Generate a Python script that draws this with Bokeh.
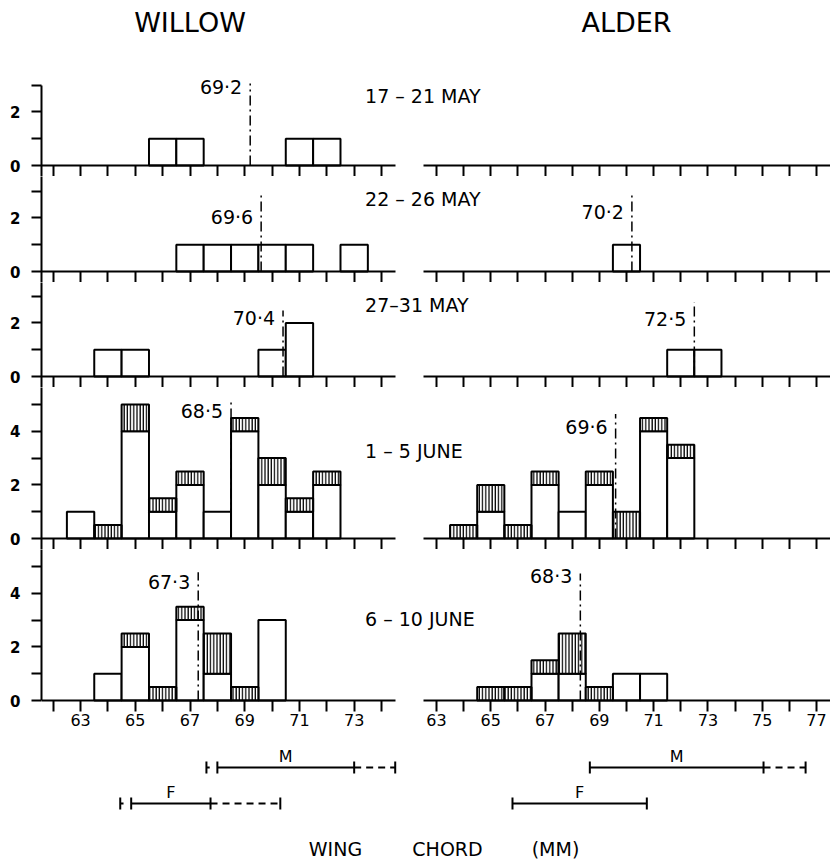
from bokeh.plotting import figure
from bokeh.models import Range1d, FixedTicker, Label, LinearAxis
from bokeh.layouts import column
from bokeh.embed import file_html
from bokeh.resources import INLINE

# ---------------- data ----------------
PERIODS = ["17 – 21 MAY", "22 – 26 MAY", "27–31 MAY", "1 – 5 JUNE", "6 – 10 JUNE"]

WILLOW_BINS = [63, 64, 65, 66, 67, 68, 69, 70, 71, 72, 73]
W_OPEN = [
    [0, 0, 0, 1, 1, 0, 0, 0, 1, 1, 0],
    [0, 0, 0, 0, 1, 1, 1, 1, 1, 0, 1],
    [0, 1, 1, 0, 0, 0, 0, 1, 2, 0, 0],
    [1, 0, 4, 1, 2, 1, 4, 2, 1, 2, 0],
    [0, 1, 2, 0, 3, 1, 0, 3, 0, 0, 0],
]
W_HATCH = [
    [0] * 11,
    [0] * 11,
    [0] * 11,
    [0, 0.5, 1, 0.5, 0.5, 0, 0.5, 1, 0.5, 0.5, 0],
    [0, 0, 0.5, 0.5, 0.5, 1.5, 0.5, 0, 0, 0, 0],
]
W_MEAN = [69.2, 69.6, 70.4, 68.5, 67.3]
W_MEAN_TEXT = ["69·2", "69·6", "70·4", "68·5", "67·3"]

ALDER_BINS = [64, 65, 66, 67, 68, 69, 70, 71, 72, 73]
A_OPEN = [
    [0] * 10,
    [0, 0, 0, 0, 0, 0, 1, 0, 0, 0],
    [0, 0, 0, 0, 0, 0, 0, 0, 1, 1],
    [0, 1, 0, 2, 1, 2, 0, 4, 3, 0],
    [0, 0, 0, 1, 1, 0, 1, 1, 0, 0],
]
A_HATCH = [
    [0] * 10,
    [0] * 10,
    [0] * 10,
    [0.5, 1, 0.5, 0.5, 0, 0.5, 1, 0.5, 0.5, 0],
    [0, 0.5, 0.5, 0.5, 1.5, 0.5, 0, 0, 0, 0],
]
A_MEAN = [None, 70.2, 72.5, 69.6, 68.3]
A_MEAN_TEXT = [None, "70·2", "72·5", "69·6", "68·3"]

W_TICKS_MAJOR = [63, 65, 67, 69, 71, 73]
W_TICKS_MINOR = [62, 64, 66, 68, 70, 72, 74]
W_TICKS_ALL = [62, 63, 64, 65, 66, 67, 68, 69, 70, 71, 72, 73, 74]
A_TICKS_MAJOR = [63, 65, 67, 69, 71, 73, 75, 77]
A_TICKS_MINOR = [64, 66, 68, 70, 72, 74, 76]
A_TICKS_ALL = [63, 64, 65, 66, 67, 68, 69, 70, 71, 72, 73, 74, 75, 76, 77]
Y_TICKS_MAJOR = [[0, 2], [0, 2], [0, 2], [0, 2, 4], [0, 2, 4]]
Y_TICKS_MINOR = [[1, 3], [1, 3], [1, 3], [1, 3, 5], [1, 3, 5]]

# size ranges (M = males, F = females), in mm
W_M_TICKS = [67.6, 68.0, 73.0, 74.5]
W_M_SOLID = [68.0, 73.0]
W_M_DASH = [73.0, 74.5]
W_F_TICKS = [64.45, 64.85, 67.75, 70.3]
W_F_SOLID = [64.85, 67.75]
W_F_DASH = [67.75, 70.3]
A_M_TICKS = [68.65, 75.05, 76.6]
A_M_SOLID = [68.65, 75.05]
A_M_DASH = [75.05, 76.6]
A_F_TICKS = [65.8, 70.75]
A_F_SOLID = [65.8, 70.75]

# ---------------- layout / style ----------------
FONT = "DejaVu Sans"
U = 26.8                      # px per count
WIDTH = 830
LEFT = 41
FRAME_W = WIDTH - LEFT
W_PX_MM = 27.36
A_PX_MM = 27.14
W_X = (61.572, 61.572 + FRAME_W / W_PX_MM)   # willow scale over the whole frame
A_X = (48.446, 48.446 + FRAME_W / A_PX_MM)   # alder scale over the whole frame
W_AXIS_END = 74.51
A_AXIS_START = 62.52
ROW_TOP = [0, 176, 282, 387, 549]
ROW_BASE = [165, 271, 376, 538, 700]
ROW_BOTTOM = [176, 282, 387, 549, 735]
W_LABEL_Y = [2.92, 2.03, 2.19, 4.75, 4.41]
W_LINE_TOP = [3.06, 2.96, 2.46, 5.15, 4.79]
A_LABEL_Y = [None, 2.21, 2.13, 4.15, 4.66]
A_LINE_TOP = [None, 2.84, 2.77, 4.65, 4.74]
DATE_Y = [2.61, 2.71, 2.65, 3.25, 3.03]
DATE_X = 73.4


def bars(p, bins, open_, hatch, rn):
    xo = [b for b, o in zip(bins, open_) if o > 0]
    to = [o for o in open_ if o > 0]
    if xo:
        p.vbar(x=xo, width=1, bottom=0, top=to, fill_color="white",
               line_color="black", line_width=2, x_range_name=rn)
    xh = [b for b, h in zip(bins, hatch) if h > 0]
    bh = [o for o, h in zip(open_, hatch) if h > 0]
    th = [o + h for o, h in zip(open_, hatch) if h > 0]
    if xh:
        p.vbar(x=xh, width=1, bottom=bh, top=th, fill_color="white",
               hatch_pattern="vertical_line", hatch_scale=3.2, hatch_weight=1.3,
               hatch_color="black", line_color="black", line_width=2,
               x_range_name=rn)


def x_axis(rn, bounds, major, minor, alls, labels):
    if labels:
        ticker = FixedTicker(ticks=major, minor_ticks=minor)
    else:
        ticker = FixedTicker(ticks=[], minor_ticks=alls)
    ax = LinearAxis(x_range_name=rn, bounds=bounds, fixed_location=0, ticker=ticker)
    ax.axis_line_width = 2
    ax.axis_line_color = "black"
    ax.major_tick_line_width = 2
    ax.minor_tick_line_width = 2
    ax.major_tick_in = 0
    ax.minor_tick_in = 0
    ax.major_tick_out = 11
    ax.minor_tick_out = 11
    ax.major_label_text_font = FONT
    ax.major_label_text_color = "black"
    ax.major_label_text_font_size = "16px"
    ax.major_label_standoff = 2
    return ax


rows = []
for i in range(5):
    top, base, bottom = ROW_TOP[i], ROW_BASE[i], ROW_BOTTOM[i]
    y0 = -(bottom - base) / U
    y1 = (base - top) / U
    p = figure(width=WIDTH, height=bottom - top,
               x_range=Range1d(*W_X), y_range=Range1d(y0, y1),
               x_axis_type=None, y_axis_type=None,
               toolbar_location=None, output_backend="svg",
               min_border_left=LEFT, min_border_right=0,
               min_border_top=0, min_border_bottom=0)
    p.extra_x_ranges = {"alder": Range1d(*A_X)}
    p.outline_line_color = None
    p.background_fill_color = "white"
    p.border_fill_color = "white"

    last = i == 4
    p.add_layout(x_axis("default", (W_X[0], W_AXIS_END), W_TICKS_MAJOR, W_TICKS_MINOR,
                        W_TICKS_ALL, last), "below")
    p.add_layout(x_axis("alder", (A_AXIS_START, A_X[1]), A_TICKS_MAJOR, A_TICKS_MINOR,
                        A_TICKS_ALL, last), "below")

    if i == 0:
        yb = (y0, 3)
    elif last:
        yb = (0, y1)
    else:
        yb = "auto"
    yax = LinearAxis(bounds=yb, ticker=FixedTicker(ticks=Y_TICKS_MAJOR[i],
                                                   minor_ticks=Y_TICKS_MINOR[i]))
    yax.axis_line_width = 2
    yax.major_tick_line_width = 2
    yax.minor_tick_line_width = 2
    yax.major_tick_in = 0
    yax.minor_tick_in = 0
    yax.major_tick_out = 10
    yax.minor_tick_out = 10
    yax.major_label_standoff = 11
    yax.major_label_text_font = FONT
    yax.major_label_text_font_size = "15px"
    yax.major_label_text_font_style = "bold"
    yax.major_label_text_color = "black"
    p.add_layout(yax, "left")

    bars(p, WILLOW_BINS, W_OPEN[i], W_HATCH[i], "default")
    bars(p, ALDER_BINS, A_OPEN[i], A_HATCH[i], "alder")

    p.segment(x0=[W_MEAN[i]], y0=[0], x1=[W_MEAN[i]], y1=[W_LINE_TOP[i]],
              line_color="black", line_width=1.5, line_dash="10 4 2 4")
    p.add_layout(Label(x=W_MEAN[i], y=W_LABEL_Y[i], text=W_MEAN_TEXT[i], x_offset=-8,
                       text_align="right", text_baseline="middle",
                       text_font=FONT, text_font_size="19px", text_color="black"))
    if A_MEAN[i] is not None:
        p.segment(x0=[A_MEAN[i]], y0=[0], x1=[A_MEAN[i]], y1=[A_LINE_TOP[i]],
                  line_color="black", line_width=1.5, line_dash="10 4 2 4",
                  x_range_name="alder")
        p.add_layout(Label(x=A_MEAN[i], y=A_LABEL_Y[i], text=A_MEAN_TEXT[i], x_offset=-8,
                           x_range_name="alder",
                           text_align="right", text_baseline="middle",
                           text_font=FONT, text_font_size="19px", text_color="black"))

    p.add_layout(Label(x=DATE_X, y=DATE_Y[i], text=PERIODS[i],
                       text_align="left", text_baseline="middle",
                       text_font=FONT, text_font_size="19px",
                       text_color="black"))

    if i == 0:
        hy = (base - 22) / U
        p.add_layout(Label(x=67.0, y=hy, text="WILLOW", text_align="center",
                           text_baseline="middle", text_font=FONT,
                           text_font_size="27px", text_color="black"))
        p.add_layout(Label(x=70.0, y=hy, text="ALDER", text_align="center",
                           text_baseline="middle", text_font=FONT, x_range_name="alder",
                           text_font_size="27px", text_color="black"))
    rows.append(p)

# ---------------- footer: size ranges and axis title ----------------
FOOT_TOP = 735
FOOT_H = 125
f = figure(width=WIDTH, height=FOOT_H, x_range=Range1d(*W_X), y_range=Range1d(0, FOOT_H),
           x_axis_type=None, y_axis_type=None, toolbar_location=None, output_backend="svg",
           min_border_left=LEFT, min_border_right=0, min_border_top=0, min_border_bottom=0)
f.extra_x_ranges = {"alder": Range1d(*A_X)}
f.outline_line_color = None
f.background_fill_color = "white"
f.border_fill_color = "white"

Y_M = FOOT_TOP + FOOT_H - 767
Y_F = FOOT_TOP + FOOT_H - 803
TICK_HALF = 6


def size_range(ticks, solid, dash, y, rn, letter, stub):
    f.segment(x0=ticks, y0=[y - TICK_HALF] * len(ticks), x1=ticks,
              y1=[y + TICK_HALF] * len(ticks),
              line_color="black", line_width=2, x_range_name=rn)
    f.segment(x0=[solid[0]], y0=[y], x1=[solid[1]], y1=[y], line_color="black",
              line_width=2, x_range_name=rn)
    if dash is not None:
        f.segment(x0=[dash[0]], y0=[y], x1=[dash[1]], y1=[y], line_color="black",
                  line_width=2, line_dash="7 5", x_range_name=rn)
    if stub:
        f.segment(x0=[ticks[0]], y0=[y], x1=[ticks[0] + 0.12], y1=[y], line_color="black",
                  line_width=2, x_range_name=rn)
    f.add_layout(Label(x=(solid[0] + solid[1]) / 2, y=y + 11, text=letter, x_range_name=rn,
                       text_align="center", text_baseline="middle", text_font=FONT,
                       text_font_size="16px", text_color="black"))


size_range(W_M_TICKS, W_M_SOLID, W_M_DASH, Y_M, "default", "M", True)
size_range(W_F_TICKS, W_F_SOLID, W_F_DASH, Y_F, "default", "F", True)
size_range(A_M_TICKS, A_M_SOLID, A_M_DASH, Y_M, "alder", "M", False)
size_range(A_F_TICKS, A_F_SOLID, None, Y_F, "alder", "F", False)

TITLE_Y = FOOT_TOP + FOOT_H - 848
for word, px in [("WING", 335), ("CHORD", 447), ("(MM)", 555)]:
    f.add_layout(Label(x=W_X[0] + (px - LEFT) / W_PX_MM, y=TITLE_Y, text=word,
                       text_align="center", text_baseline="middle", text_font=FONT,
                       text_font_size="19px", text_color="black"))

layout = column(*rows, f)
open("out.html", "w").write(file_html(layout, INLINE))
